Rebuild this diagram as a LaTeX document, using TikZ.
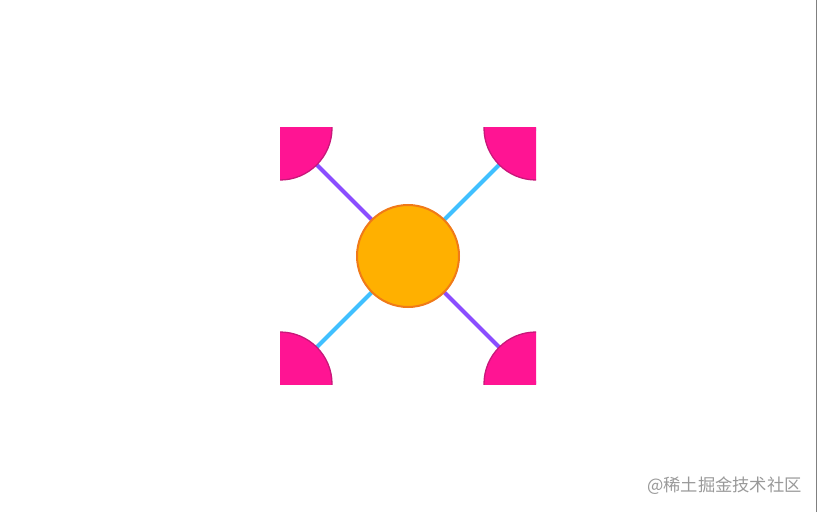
\documentclass[tikz,border=0pt]{standalone}
\usepackage{fontspec}
\newfontfamily\cjk{Noto Sans CJK SC}
\usetikzlibrary{positioning}

\definecolor{hubfill}{HTML}{FFB000}
\definecolor{hubedge}{HTML}{F07A18}
\definecolor{petalfill}{HTML}{FF1493}
\definecolor{petaledge}{HTML}{C8187A}
\definecolor{spokeviolet}{HTML}{8B4DFF}
\definecolor{spokecyan}{HTML}{40C0FF}

\begin{document}
\begin{tikzpicture}[
				x=1pt, y=1pt,
				hub/.style={circle, draw=hubedge, fill=hubfill, line width=2pt, minimum size=102pt, inner sep=0pt},
				petal/.style={circle, draw=petaledge, fill=petalfill, line width=1.3pt, minimum size=104pt, inner sep=0pt},
				spoke/.style={line width=4pt}
			]
				\useasboundingbox (0,0) rectangle (818,512);
				\draw[gray, line width=1.2pt] (816.5,0) -- (816.5,512);

				\begin{scope}
					\clip (280,128) rectangle (536,384);
					\coordinate (tl) at (280,384);
					\coordinate (tr) at (536,384);
					\coordinate (bl) at (280,128);
					\coordinate (br) at (536,128);
					\coordinate (mid) at (408,256);
					\draw[spoke, spokeviolet] (tl) -- (mid);
					\draw[spoke, spokeviolet] (mid) -- (br);
					\draw[spoke, spokecyan] (tr) -- (mid);
					\draw[spoke, spokecyan] (mid) -- (bl);
					\node[petal] (petaltl) at (tl) {};
					\node[petal] (petaltr) at (tr) {};
					\node[petal] (petalbl) at (bl) {};
					\node[petal] (petalbr) at (br) {};
					\node[hub] (hub) at (mid) {};
				\end{scope}

				\node[anchor=east, text=black!40, font=\cjk\fontsize{17.3}{19}\selectfont, inner sep=0pt] (mark) at (802,26) {@稀土掘金技术社区};
			\end{tikzpicture}
\end{document}
